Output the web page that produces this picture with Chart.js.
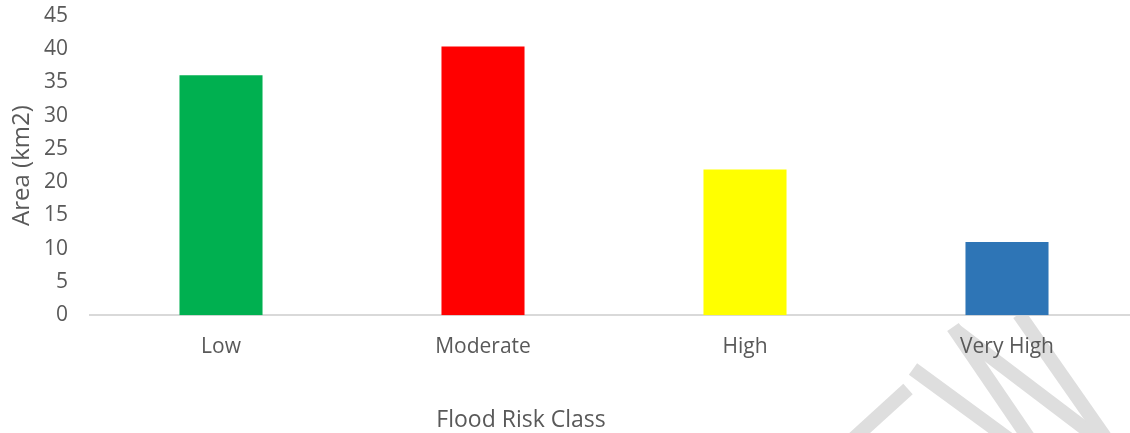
<!DOCTYPE html>
<html>
<head>
<meta charset="utf-8">
<script src="https://cdn.jsdelivr.net/npm/chart.js@4/dist/chart.umd.min.js"></script>
<style>
  html, body { margin: 0; padding: 0; background: #fff; overflow: hidden; }
  #wrap { width: 1138px; height: 433px; position: relative; }
</style>
</head>
<body>
<div id="wrap"><canvas id="myChart"></canvas></div>
<script>
const categories = ['Low', 'Moderate', 'High', 'Very High'];
const areaValues = [36.1, 40.4, 21.9, 11.0];
const barColors = ['#00b050', '#ff0000', '#ffff00', '#2e75b6'];
const yTicks = [0, 5, 10, 15, 20, 25, 30, 35, 40, 45];
const xTitle = 'Flood Risk Class';

const textColor = '#595959';
const fontFamily = "'Open Sans', 'Liberation Sans', sans-serif";

// faint watermark strokes behind the chart
const watermark = {
    id: 'watermark',
    beforeDraw(chart) {
        const c = chart.ctx;
        c.save();
        c.strokeStyle = '#dedede';
        c.lineWidth = 14;
        c.lineCap = 'butt';
        const strokes = [
            [[852, 440], [908, 389]],
            [[913, 369], [1010, 440]],
            [[953, 327], [1030, 440]],
            [[955, 330], [1100, 440]],
            [[1019, 314], [1107, 440]]
        ];
        strokes.forEach(s => {
            c.beginPath();
            c.moveTo(s[0][0], s[0][1]);
            c.lineTo(s[1][0], s[1][1]);
            c.stroke();
        });
        c.restore();
    }
};

// x axis title sits left of the plot centre in the original
const xTitlePlugin = {
    id: 'xTitlePlugin',
    afterDraw(chart) {
        const c = chart.ctx;
        c.save();
        c.fillStyle = textColor;
        c.font = `23px ${fontFamily}`;
        c.textAlign = 'center';
        c.textBaseline = 'middle';
        c.fillText(xTitle, chart.chartArea.left + 431, 420);
        c.restore();
    }
};

document.addEventListener('DOMContentLoaded', () => {
    const ctx = document.getElementById('myChart');

    new Chart(ctx, {
        type: 'bar',
        data: {
            labels: categories,
            datasets: [{
                label: 'Area (km2)',
                data: areaValues,
                backgroundColor: barColors,
                borderWidth: 0,
                barPercentage: 0.317,
                categoryPercentage: 1.0
            }]
        },
        options: {
            responsive: true,
            maintainAspectRatio: false,
            animation: false,
            layout: { autoPadding: false, padding: { top: 16, left: 0, right: 0, bottom: 0 } },
            plugins: {
                legend: { display: false },
                tooltip: { enabled: false }
            },
            scales: {
                y: {
                    min: 0,
                    max: 45,
                    afterBuildTicks: axis => {
                        axis.ticks = yTicks.map(v => ({ value: v }));
                    },
                    afterFit: axis => {
                        axis.width = 90;
                        axis.paddingTop = 0;
                        axis.paddingBottom = 0;
                    },
                    grid: { display: false, drawTicks: false },
                    border: { display: false },
                    ticks: {
                        color: textColor,
                        font: { family: fontFamily, size: 21 },
                        padding: 22
                    },
                    title: {
                        display: true,
                        text: 'Area (km2)',
                        color: textColor,
                        font: { family: fontFamily, size: 24 },
                        padding: { top: 8, bottom: 4 }
                    }
                },
                x: {
                    grid: { display: false, drawTicks: false },
                    border: { display: true, color: '#d9d9d9', width: 2 },
                    ticks: {
                        color: textColor,
                        font: { family: fontFamily, size: 21 },
                        padding: 19
                    },
                    title: {
                        display: true,
                        text: xTitle,
                        color: 'rgba(0,0,0,0)',
                        font: { family: fontFamily, size: 23 },
                        padding: { top: 27, bottom: 0 }
                    }
                }
            }
        },
        plugins: [watermark, xTitlePlugin]
    });
});
</script>
</body>
</html>
